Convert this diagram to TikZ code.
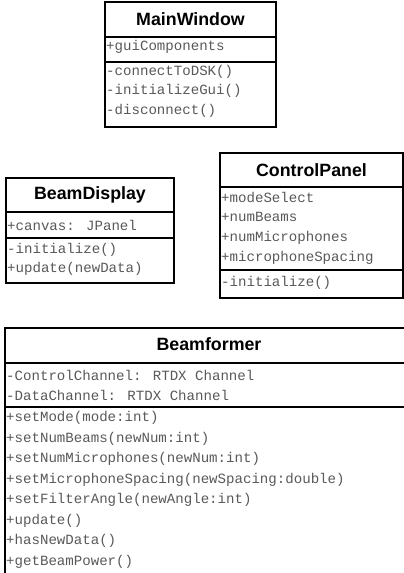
\documentclass[tikz,border=0pt]{standalone}
\usepackage{fontspec}
\setmainfont{Liberation Sans}
\newfontfamily\umlmono{Liberation Mono}
\newfontfamily\umltitlefont{Liberation Sans}
\begin{document}
\begin{tikzpicture}[x=1pt,y=-1pt,
  box/.style={draw=black,line width=2.4pt},
  sep/.style={draw=black,line width=2.4pt},
  ttl/.style={inner sep=0pt,font=\umltitlefont\bfseries\fontsize{17.8}{20}\selectfont,text=black},
  mem/.style={anchor=west,inner sep=0pt,font=\umlmono\fontsize{14.1}{16}\selectfont,text=black!65}]
\useasboundingbox (0,0) rectangle (404,573);
\fill[white] (0,0) rectangle (404,573);
\begin{scope}
\clip (0,0) rectangle (404,573);
% MainWindow
\draw[box] (105,2) rectangle (276,127);
\draw[sep] (105,37) -- (276,37);
\draw[sep] (105,62) -- (276,62);
\node[ttl] (mwt) at (190.5,19) {MainWindow};
\node[mem] (mwa) at (106,47) {+guiComponents};
\node[mem] (mwm1) at (106,72) {-connectToDSK()};
\node[mem] (mwm2) at (106,91) {-initializeGui()};
\node[mem] (mwm3) at (106,111) {-disconnect()};
% BeamDisplay
\draw[box] (6,178) rectangle (174,283);
\draw[sep] (6,212) -- (174,212);
\draw[sep] (6,238) -- (174,238);
\node[ttl] (bdt) at (90,195) {BeamDisplay};
\node[mem] (bda) at (7,225) {+canvas: JPanel};
\node[mem] (bdm1) at (7,250) {-initialize()};
\node[mem] (bdm2) at (7,269) {+update(newData)};
% ControlPanel
\draw[box] (220,153) rectangle (403,298);
\draw[sep] (220,187) -- (403,187);
\draw[sep] (220,270) -- (403,270);
\node[ttl] (cpt) at (311.5,170) {ControlPanel};
\node[mem] (cpa1) at (221,197) {+modeSelect};
\node[mem] (cpa2) at (221,217) {+numBeams};
\node[mem] (cpa3) at (221,238) {+numMicrophones};
\node[mem] (cpa4) at (221,258) {+microphoneSpacing};
\node[mem] (cpm1) at (221,283) {-initialize()};
% Beamformer
\draw[box] (5,328) rectangle (420,600);
\draw[sep] (5,363) -- (420,363);
\draw[sep] (5,407) -- (420,407);
\node[ttl] (bft) at (209,344) {Beamformer};
\node[mem] (bfa1) at (6,375) {-ControlChannel: RTDX Channel};
\node[mem] (bfa2) at (6,395) {-DataChannel: RTDX Channel};
\node[mem] (bfm1) at (6,418) {+setMode(mode:int)};
\node[mem] (bfm2) at (6,438.5) {+setNumBeams(newNum:int)};
\node[mem] (bfm3) at (6,459) {+setNumMicrophones(newNum:int)};
\node[mem] (bfm4) at (6,479.5) {+setMicrophoneSpacing(newSpacing:double)};
\node[mem] (bfm5) at (6,500) {+setFilterAngle(newAngle:int)};
\node[mem] (bfm6) at (6,520.5) {+update()};
\node[mem] (bfm7) at (6,541) {+hasNewData()};
\node[mem] (bfm8) at (6,561.5) {+getBeamPower()};
\end{scope}
\end{tikzpicture}
\end{document}
